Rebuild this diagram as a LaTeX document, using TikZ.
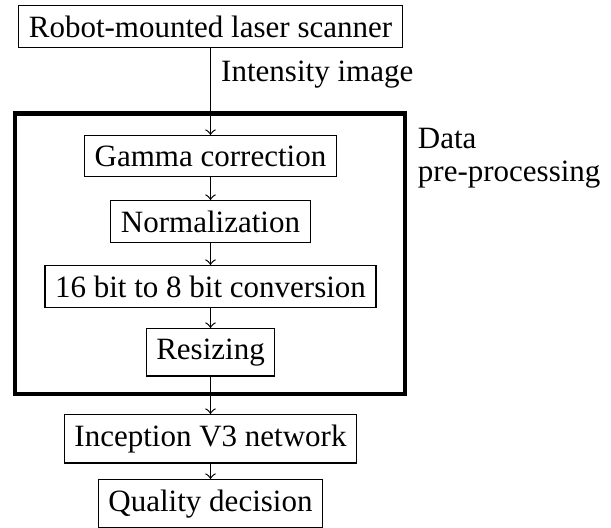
\documentclass[tikz,border=0pt]{standalone}
\usepackage{fontspec}
\setmainfont{Liberation Serif}
\begin{document}
\begin{tikzpicture}[x=0.329pt,y=-0.329pt,
  txt/.style={font=\fontsize{10.2}{12}\selectfont},
  stagebox/.style={draw, line width=0.4pt, anchor=north, txt},
  conn/.style={->, line width=0.4pt},
  groupbox/.style={draw, line width=1.45pt, minimum width=390*0.329pt, minimum height=280.5*0.329pt, inner sep=0pt}]
\useasboundingbox (0,0) rectangle (611,527);
\node[groupbox] (pre) at (210,253.75) {};
\node[stagebox] (scan) at (210.5,5) {Robot-mounted laser scanner};
\node[stagebox] (gamma) at (210.5,135) {Gamma correction};
\node[stagebox] (norm) at (210.5,200) {Normalization};
\node[stagebox] (conv) at (210.5,265) {16 bit to 8 bit conversion};
\node[stagebox] (resize) at (210.5,328) {Resizing};
\node[stagebox] (incep) at (210.5,414) {Inception V3 network};
\node[stagebox] (qual) at (210.5,479) {Quality decision};
\node[anchor=north west, align=left, font=\fontsize{10.2}{11}\selectfont, yshift=-2pt] (lbl) at (pre.north east) {Data\\pre-processing};
\draw[conn] (scan) -- node[right, pos=0.3, txt] (intens) {Intensity image} (gamma);
\draw[conn] (gamma) -- (norm);
\draw[conn] (norm) -- (conv);
\draw[conn] (conv) -- (resize);
\draw[conn] (resize) -- (incep);
\draw[conn] (incep) -- (qual);
\end{tikzpicture}
\end{document}
